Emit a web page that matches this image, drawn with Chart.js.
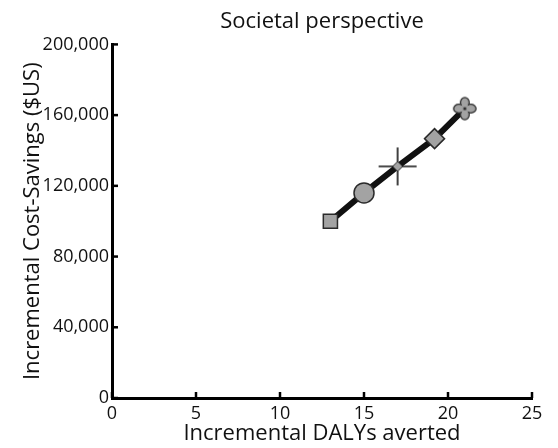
<!DOCTYPE html>
<html>
<head>
<meta charset="utf-8">
<script src="https://cdn.jsdelivr.net/npm/chart.js@4.4.0/dist/chart.umd.min.js"></script>
<style>
  html, body { margin: 0; padding: 0; background: #fff; }
  #wrap { width: 558px; height: 448px; }
</style>
</head>
<body>
<div id="wrap"><canvas id="cea"></canvas></div>
<script>
// values
const dalys = [13, 15, 17, 19.2, 21];
const savings = [100000, 116000, 131000, 146700, 163700];
const xTicks = [0, 5, 10, 15, 20, 25];
const yTicks = [0, 40000, 80000, 120000, 160000, 200000];

const FILL = '#a3a3a3';
const EDGE = '#2a2a2a';

// star marker: thin cross with a small diamond in the middle
function makeStar() {
  const c = document.createElement('canvas');
  c.width = 42; c.height = 42;
  const g = c.getContext('2d');
  const m = 21;
  g.strokeStyle = '#111';
  g.lineWidth = 1.6;
  g.beginPath();
  g.moveTo(m - 19, m); g.lineTo(m + 19, m);
  g.moveTo(m, m - 19); g.lineTo(m, m + 19);
  g.stroke();
  g.beginPath();
  g.moveTo(m, m - 5); g.lineTo(m + 5, m); g.lineTo(m, m + 5); g.lineTo(m - 5, m); g.closePath();
  g.fillStyle = FILL; g.fill();
  g.strokeStyle = EDGE; g.lineWidth = 1; g.stroke();
  return c;
}

// flower marker: four round petals
function makeFlower() {
  const c = document.createElement('canvas');
  c.width = 28; c.height = 28;
  const g = c.getContext('2d');
  const m = 14;
  const offs = [[0, -6], [6, 0], [0, 6], [-6, 0]];
  g.strokeStyle = EDGE; g.lineWidth = 1.3; g.fillStyle = FILL;
  offs.forEach(o => {
    g.beginPath();
    g.ellipse(m + o[0], m + o[1], o[0] ? 5.2 : 4.4, o[1] ? 5.2 : 4.4, 0, 0, Math.PI * 2);
    g.fill(); g.stroke();
  });
  offs.forEach(o => {
    g.beginPath();
    g.ellipse(m + o[0] * 0.85, m + o[1] * 0.85, o[0] ? 4 : 3.2, o[1] ? 4 : 3.2, 0, 0, Math.PI * 2);
    g.fill();
  });
  g.beginPath(); g.arc(m, m, 1.5, 0, Math.PI * 2); g.fillStyle = EDGE; g.fill();
  return c;
}

const styles = ['rect', 'circle', makeStar(), 'rectRot', makeFlower()];
const radii = [10, 10, 20, 10, 14];

// ticks pointing into the plot
const inwardTicks = {
  id: 'inwardTicks',
  afterDraw(chart) {
    const ctx = chart.ctx;
    const xs = chart.scales.x, ys = chart.scales.y;
    ctx.save();
    ctx.strokeStyle = '#000';
    ctx.lineWidth = 2.5;
    xTicks.forEach(v => {
      const px = xs.getPixelForValue(v);
      ctx.beginPath(); ctx.moveTo(px, ys.bottom); ctx.lineTo(px, ys.bottom - 6); ctx.stroke();
    });
    yTicks.forEach(v => {
      const py = ys.getPixelForValue(v);
      ctx.beginPath(); ctx.moveTo(xs.left, py); ctx.lineTo(xs.left + 6, py); ctx.stroke();
    });
    ctx.restore();
  }
};

Chart.defaults.font.family = '"Open Sans", sans-serif';
Chart.defaults.color = '#111';

new Chart(document.getElementById('cea'), {
  type: 'scatter',
  data: {
    datasets: [{
      data: dalys.map((d, i) => ({ x: d, y: savings[i] })),
      showLine: true,
      borderColor: '#111',
      borderWidth: 6,
      pointStyle: styles,
      pointRadius: radii,
      pointHoverRadius: radii,
      pointBackgroundColor: FILL,
      pointBorderColor: EDGE,
      pointBorderWidth: 1.5,
      clip: false
    }]
  },
  options: {
    responsive: true,
    maintainAspectRatio: false,
    animation: false,
    layout: { padding: { left: 0, right: 26, top: 0, bottom: 0 } },
    plugins: {
      legend: { display: false },
      tooltip: { enabled: false },
      title: {
        display: true,
        fullSize: false,
        text: 'Societal perspective',
        font: { size: 22, weight: 'normal' },
        color: '#111',
        padding: { top: 9, bottom: 9 }
      }
    },
    scales: {
      x: {
        type: 'linear',
        min: 0, max: 25,
        afterFit: s => { s.height = 50; },
        afterBuildTicks: s => { s.ticks = xTicks.map(v => ({ value: v })); },
        grid: { display: false, drawTicks: false },
        border: { color: '#000', width: 3 },
        ticks: { font: { size: 18 }, padding: 5, maxRotation: 0 },
        title: {
          display: true,
          text: 'Incremental DALYs averted',
          font: { size: 22 },
          padding: { top: 0, bottom: 1 }
        }
      },
      y: {
        type: 'linear',
        min: 0, max: 200000,
        afterFit: s => { s.width = 112; },
        afterBuildTicks: s => { s.ticks = yTicks.map(v => ({ value: v })); },
        grid: { display: false, drawTicks: false },
        border: { color: '#000', width: 3 },
        ticks: {
          font: { size: 18 },
          padding: 3,
          callback: v => v.toLocaleString('en-US')
        },
        title: {
          display: true,
          text: 'Incremental Cost-Savings ($US)',
          font: { size: 22 },
          padding: { top: 20, bottom: 0 }
        }
      }
    }
  },
  plugins: [inwardTicks]
});
</script>
</body>
</html>
